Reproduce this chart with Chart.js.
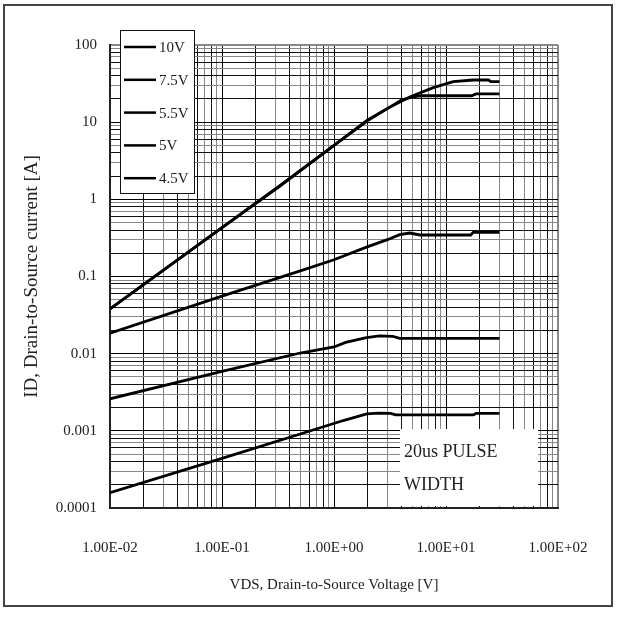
<!DOCTYPE html>
<html>
<head>
<meta charset="utf-8">
<script src="https://cdn.jsdelivr.net/npm/chart.js@4.4.0/dist/chart.umd.min.js"></script>
<style>
body { margin: 0; background: #fff; }
#wrap { width: 624px; height: 623px; }
</style>
</head>
<body>
<div id="wrap"><canvas id="chart" width="624" height="623"></canvas></div>
<script>
// Curvas de salida: VDS [V] vs ID [A]
const vds10 = [0.01, 0.1, 0.33, 1, 2, 3, 4.8, 7.7, 11.6, 17.5, 24, 25, 30];
const id10 = [0.038, 0.43, 1.5, 5.0, 10.7, 15.1, 21.4, 28, 33.5, 35.2, 35.2, 33.5, 33.5];

const vds75 = [0.01, 0.1, 0.33, 1, 2, 3, 4, 5, 6, 17, 18.5, 30];
const id75 = [0.038, 0.43, 1.5, 5.0, 10.5, 15.0, 19.3, 21.2, 22, 22, 23.2, 23.2];

const vds55 = [0.01, 0.1, 0.5, 1, 1.95, 3.0, 3.86, 4.75, 5.85, 16.6, 17.5, 30];
const id55 = [0.0184, 0.0556, 0.118, 0.165, 0.24, 0.30, 0.348, 0.366, 0.345, 0.345, 0.374, 0.374];

const vds5 = [0.01, 0.1, 0.5, 1, 1.27, 1.95, 2.55, 3.34, 3.86, 30];
const id5 = [0.0026, 0.0059, 0.0102, 0.0122, 0.014, 0.0161, 0.017, 0.0168, 0.0158, 0.0158];

const vds45 = [0.01, 0.1, 0.5, 1.21, 1.96, 2.5, 3.2, 3.56, 17.5, 18.5, 30];
const id45 = [0.000158, 0.00044, 0.00091, 0.00136, 0.00166, 0.0017, 0.00168, 0.00161, 0.00161, 0.00168, 0.00168];

const seriesLabels = ['10V', '7.5V', '5.5V', '5V', '4.5V'];

// Ejes
const xDecades = [0.01, 0.1, 1, 10, 100];
const xTickLabels = ['1.00E-02', '1.00E-01', '1.00E+00', '1.00E+01', '1.00E+02'];
const yDecades = [0.0001, 0.001, 0.01, 0.1, 1, 10, 100];
const yTickLabels = ['0.0001', '0.001', '0.01', '0.1', '1', '10', '100'];

const toPoints = (xs, ys) => xs.map((x, i) => ({ x: x, y: ys[i] }));

function makeDataset(label, xs, ys) {
    return {
        label: label,
        data: toPoints(xs, ys),
        borderColor: '#000',
        borderWidth: 2.8,
        pointRadius: 0,
        tension: 0,
        fill: false
    };
}

// Rejilla logarítmica 1..9 por década
function logTicks(decades) {
    const ticks = [];
    for (let i = 0; i < decades.length - 1; i++) {
        for (let k = 1; k <= 9; k++) ticks.push({ value: k * decades[i] });
    }
    ticks.push({ value: decades[decades.length - 1] });
    return ticks;
}

function gridColor(ctx, decades) {
    const v = ctx.tick ? ctx.tick.value : 0;
    if (v === decades[decades.length - 1]) return '#888';
    const k = Math.round(v / Math.pow(10, Math.floor(Math.log10(v) + 1e-9)));
    if (k === 1) return '#000';
    return k % 2 ? '#888' : '#111';
}

function gridWidth(ctx, decades) {
    const v = ctx.tick ? ctx.tick.value : 0;
    return v === decades[decades.length - 1] ? 2 : 1;
}

// Leyenda dentro del área
const legendBox = {
    id: 'legendBox',
    afterDatasetsDraw(chart) {
        const ctx = chart.ctx;
        ctx.save();
        ctx.fillStyle = '#fff';
        ctx.fillRect(120, 30, 74, 163);
        ctx.strokeStyle = '#111';
        ctx.lineWidth = 1;
        ctx.strokeRect(120.5, 30.5, 74, 163);
        ctx.font = '15px "Liberation Serif"';
        ctx.textBaseline = 'middle';
        chart.data.datasets.forEach((ds, i) => {
            const y = 47 + i * 32.8;
            ctx.strokeStyle = ds.borderColor;
            ctx.lineWidth = 2.5;
            ctx.beginPath();
            ctx.moveTo(124, y);
            ctx.lineTo(156, y);
            ctx.stroke();
            ctx.fillStyle = '#222';
            ctx.fillText(ds.label, 159, y + 1);
        });
        ctx.restore();
    }
};

// Nota "20us PULSE WIDTH" y marco exterior
const noteBox = {
    id: 'noteBox',
    afterDatasetsDraw(chart) {
        const ctx = chart.ctx;
        ctx.save();
        ctx.fillStyle = '#fff';
        ctx.fillRect(400, 429, 138, 77);
        ctx.fillStyle = '#222';
        ctx.font = '18px "Liberation Serif"';
        ctx.textBaseline = 'alphabetic';
        ctx.fillText('20us PULSE', 404, 457);
        ctx.fillText('WIDTH', 404, 490);
        ctx.restore();
    },
    afterDraw(chart) {
        const ctx = chart.ctx;
        ctx.save();
        ctx.strokeStyle = '#444';
        ctx.lineWidth = 2;
        ctx.strokeRect(4, 5, 608, 601);
        ctx.restore();
    }
};

Chart.defaults.font.family = '"Liberation Serif", serif';
Chart.defaults.color = '#222';

const chart = new Chart(document.getElementById('chart'), {
    type: 'line',
    data: {
        datasets: [
            makeDataset(seriesLabels[0], vds10, id10),
            makeDataset(seriesLabels[1], vds75, id75),
            makeDataset(seriesLabels[2], vds55, id55),
            makeDataset(seriesLabels[3], vds5, id5),
            makeDataset(seriesLabels[4], vds45, id45)
        ]
    },
    options: {
        responsive: false,
        animation: false,
        devicePixelRatio: 1,
        layout: { padding: { top: 45, right: 66, left: 0, bottom: 0 } },
        plugins: {
            legend: { display: false },
            tooltip: { enabled: false }
        },
        scales: {
            x: {
                type: 'logarithmic',
                min: 0.01,
                max: 100,
                afterBuildTicks: scale => { scale.ticks = logTicks(xDecades); },
                afterFit: scale => { scale.height = 115; },
                grid: {
                    drawTicks: false,
                    color: ctx => gridColor(ctx, xDecades),
                    lineWidth: ctx => gridWidth(ctx, xDecades)
                },
                border: { color: '#222', width: 2 },
                ticks: {
                    autoSkip: false,
                    maxRotation: 0,
                    padding: 31,
                    font: { size: 15 },
                    callback: value => {
                        const i = xDecades.indexOf(value);
                        return i >= 0 ? xTickLabels[i] : '';
                    }
                },
                title: {
                    display: true,
                    text: 'VDS, Drain-to-Source Voltage [V]',
                    font: { size: 15 },
                    padding: { top: 0, bottom: 29 }
                }
            },
            y: {
                type: 'logarithmic',
                min: 0.0001,
                max: 100,
                afterBuildTicks: scale => { scale.ticks = logTicks(yDecades); },
                afterFit: scale => { scale.width = 110; },
                grid: {
                    drawTicks: false,
                    color: ctx => gridColor(ctx, yDecades),
                    lineWidth: ctx => gridWidth(ctx, yDecades)
                },
                border: { color: '#222', width: 2 },
                ticks: {
                    autoSkip: false,
                    padding: 13,
                    font: { size: 15 },
                    callback: value => {
                        const i = yDecades.indexOf(value);
                        return i >= 0 ? yTickLabels[i] : '';
                    }
                },
                title: {
                    display: true,
                    text: 'ID, Drain-to-Source current [A]',
                    font: { size: 19 },
                    padding: { top: 21, bottom: 0 }
                }
            }
        }
    },
    plugins: [legendBox, noteBox]
});
</script>
</body>
</html>
